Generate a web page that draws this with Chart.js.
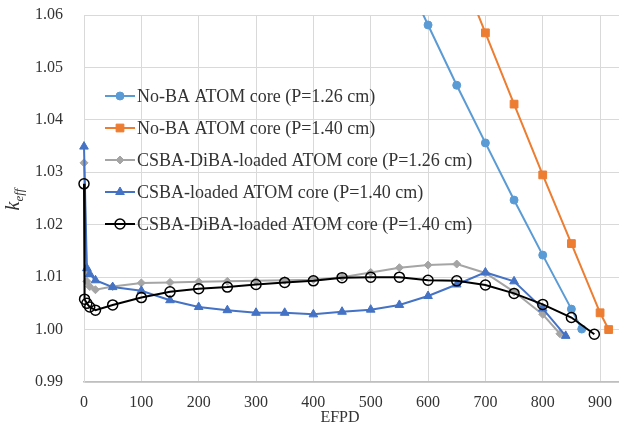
<!DOCTYPE html>
<html>
<head>
<meta charset="utf-8">
<script src="https://cdn.jsdelivr.net/npm/chart.js@4.4.1/dist/chart.umd.min.js"></script>
<style>
  html, body { margin: 0; padding: 0; background: #fff; }
  #wrap { width: 619px; height: 431px; position: relative; }
</style>
</head>
<body>
<div id="wrap"><canvas id="c"></canvas></div>
<script>
'use strict';

// ---------- data (EFPD vs k_eff) ----------
const noBa126Days = [550, 600, 650, 700, 750, 800, 850, 868];
const noBa126Keff = [1.0696, 1.0581, 1.0466, 1.0356, 1.0247, 1.0142, 1.0039, 1.0001];

const noBa140Days = [650, 700, 750, 800, 850, 900, 915];
const noBa140Keff = [1.0702, 1.0566, 1.0430, 1.0295, 1.0164, 1.0032, 1.0000];

const diba126Days = [0, 5, 10, 20, 50, 100, 150, 200, 250, 300, 350, 400, 450, 500, 550, 600, 650, 700, 750, 800, 830];
const diba126Keff = [1.0318, 1.0092, 1.0082, 1.0076, 1.0082, 1.0089, 1.0090, 1.0091, 1.0092, 1.0093, 1.0094, 1.0095,
  1.0100, 1.0109, 1.0118, 1.0123, 1.0125, 1.0108, 1.0072, 1.0029, 0.9992];

const csba140Days = [0, 5, 10, 20, 50, 100, 150, 200, 250, 300, 350, 400, 450, 500, 550, 600, 650, 700, 750, 800, 840];
const csba140Keff = [1.0349, 1.0117, 1.0106, 1.0094, 1.0081, 1.0074, 1.0056, 1.0043, 1.0037, 1.0032, 1.0032, 1.0029,
  1.0034, 1.0038, 1.0047, 1.0064, 1.0086, 1.0109, 1.0092, 1.0040, 0.9988];

const diba140Days = [0, 1, 5, 10, 20, 50, 100, 150, 200, 250, 300, 350, 400, 450, 500, 550, 600, 650, 700, 750, 800, 850, 890];
const diba140Keff = [1.0278, 1.0058, 1.0050, 1.0043, 1.0037, 1.0047, 1.0061, 1.0072, 1.0078, 1.0081, 1.0086, 1.0090,
  1.0093, 1.0099, 1.0100, 1.0100, 1.0094, 1.0093, 1.0085, 1.0069, 1.0048, 1.0023, 0.9991];

const seriesLabels = [
  'No-BA ATOM core (P=1.26 cm)',
  'No-BA ATOM core (P=1.40 cm)',
  'CSBA-DiBA-loaded ATOM core (P=1.26 cm)',
  'CSBA-loaded ATOM core (P=1.40 cm)',
  'CSBA-DiBA-loaded ATOM core (P=1.40 cm)'
];

const X_MIN = 0, X_MAX = 933, X_STEP = 100;
const Y_MIN = 0.99, Y_MAX = 1.06, Y_STEP = 0.01;

// ---------- styles ----------
const SERIF = '"Liberation Serif", "Times New Roman", serif';
const TEXT = '#333333';
const GRID = '#D9D9D9';

const pts = (xs, ys) => xs.map((x, i) => ({ x, y: ys[i] }));

function series(label, xs, ys, color, style, radius, extra) {
  return Object.assign({
    label, data: pts(xs, ys),
    borderColor: color, backgroundColor: color,
    pointBackgroundColor: color, pointBorderColor: color,
    pointStyle: style, pointRadius: radius, pointBorderWidth: 1,
    borderWidth: 2, tension: 0,
    clip: { left: 8, top: 0, right: 0, bottom: 8 }
  }, extra || {});
}

const datasets = [
  series(seriesLabels[0], noBa126Days, noBa126Keff, '#5B9BD5', 'circle', 4, { order: 5 }),
  series(seriesLabels[1], noBa140Days, noBa140Keff, '#ED7D31', 'rect', 5.5, { order: 4 }),
  series(seriesLabels[2], diba126Days, diba126Keff, '#A5A5A5', 'rectRot', 4, { order: 3 }),
  series(seriesLabels[3], csba140Days, csba140Keff, '#4472C4', 'triangle', 5, { order: 2 }),
  series(seriesLabels[4], diba140Days, diba140Keff, '#000000', 'circle', 5,
    { order: 1, pointBackgroundColor: 'rgba(0,0,0,0)', pointBorderWidth: 1.5 })
];

// ---------- legend drawn inside the plot ----------
const LEG_X = 105, LEG_TOP = 96, LEG_STEP = 32;
const legendInside = {
  id: 'legendInside',
  afterDatasetsDraw(chart) {
    const ctx = chart.ctx;
    ctx.save();
    chart.data.datasets.forEach((ds, i) => {
      const y = LEG_TOP + i * LEG_STEP;
      ctx.strokeStyle = ds.borderColor; ctx.lineWidth = ds.borderWidth;
      ctx.beginPath(); ctx.moveTo(LEG_X, y); ctx.lineTo(LEG_X + 30, y); ctx.stroke();
      ctx.fillStyle = ds.pointBackgroundColor; ctx.strokeStyle = ds.pointBorderColor; ctx.lineWidth = ds.pointBorderWidth;
      Chart.helpers.drawPoint(ctx, { pointStyle: ds.pointStyle, radius: ds.pointRadius,
        borderWidth: ds.pointBorderWidth, rotation: 0 }, LEG_X + 15, y);
      ctx.fillStyle = TEXT; ctx.font = '18px ' + SERIF;
      ctx.textAlign = 'left'; ctx.textBaseline = 'middle';
      ctx.fillText(ds.label, LEG_X + 32, y + 1);
    });
    ctx.restore();
  }
};

// ---------- axis titles: italic k_eff with subscript, EFPD ----------
const axisTitles = {
  id: 'axisTitles',
  afterDraw(chart) {
    const ctx = chart.ctx, { top, bottom } = chart.chartArea;
    ctx.save();
    ctx.fillStyle = TEXT;
    ctx.font = '16px ' + SERIF; ctx.textAlign = 'center'; ctx.textBaseline = 'middle';
    ctx.fillText('EFPD', 340, 418);

    ctx.translate(19, (top + bottom) / 2 + 1);
    ctx.rotate(-Math.PI / 2);
    ctx.textBaseline = 'alphabetic'; ctx.textAlign = 'left';
    ctx.font = 'italic 20px ' + SERIF;
    const kw = ctx.measureText('k').width;
    ctx.font = 'italic 13px ' + SERIF;
    const ew = ctx.measureText('eff').width;
    const x0 = -(kw + ew) / 2;
    ctx.font = 'italic 20px ' + SERIF;
    ctx.fillText('k', x0, 0);
    ctx.font = 'italic 13px ' + SERIF;
    ctx.fillText('eff', x0 + kw, 4);
    ctx.restore();
  }
};

new Chart(document.getElementById('c'), {
  type: 'line',
  data: { datasets },
  options: {
    responsive: true, maintainAspectRatio: false, animation: false,
    layout: { padding: 0, autoPadding: false },
    plugins: { legend: { display: false }, tooltip: { enabled: false } },
    scales: {
      x: {
        type: 'linear', min: X_MIN, max: X_MAX,
        ticks: { stepSize: X_STEP, includeBounds: false, padding: 11, color: TEXT,
          font: { family: SERIF, size: 16 }, maxRotation: 0, autoSkip: false },
        // keep 0..900 ticks but let the axis run on to X_MAX
        afterBuildTicks: (s) => { s.ticks = s.ticks.filter(t => t.value % X_STEP === 0); s.max = X_MAX; },
        afterFit: (s) => { s.height = 49; s.paddingLeft = 0; s.paddingRight = 0; },
        grid: { color: GRID, drawTicks: false },
        border: { color: '#BFBFBF', width: 1.5 }
      },
      y: {
        min: Y_MIN, max: Y_MAX,
        ticks: { stepSize: Y_STEP, padding: 21, color: TEXT, font: { family: SERIF, size: 16 },
          callback: (v) => v.toFixed(2) },
        afterFit: (s) => { s.width = 84; s.paddingTop = 15; s.paddingBottom = 0; },
        grid: { color: GRID, drawTicks: false },
        border: { color: GRID, width: 1 }
      }
    }
  },
  plugins: [legendInside, axisTitles]
});
</script>
</body>
</html>
